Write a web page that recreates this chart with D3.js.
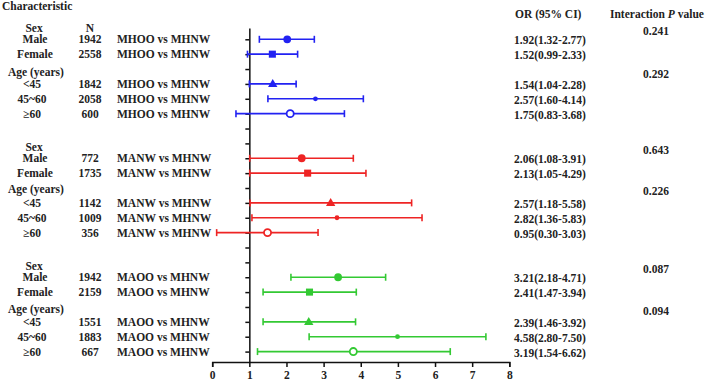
<!DOCTYPE html>
<html>
<head>
<meta charset="utf-8">
<script src="https://cdn.jsdelivr.net/npm/d3@7"></script>
<style>
  body { margin: 0; background: #fff; }
  text { font-family: "Liberation Serif", "Times New Roman", serif; font-weight: bold; font-size: 11.5px; fill: #222; }
</style>
</head>
<body>
<script>
// Data
var comparisons = ["MHOO vs MHNW", "MANW vs MHNW", "MAOO vs MHNW"];
var subgroups = ["Male", "Female", "<45", "45~60", "≥60"];
var nValues = [[1942, 2558, 1842, 2058, 600],
               [772, 1735, 1142, 1009, 356],
               [1942, 2159, 1551, 1883, 667]];
// point and CI as drawn in the figure
var orPoint = [[2.02, 1.62, 1.63, 2.78, 2.10],
               [2.41, 2.57, 3.19, 3.36, 1.49],
               [3.39, 2.62, 2.60, 4.99, 3.80]];
var orLower = [[1.27, 0.95, 1.00, 1.50, 0.64],
               [1.01, 1.01, 1.02, 1.07, 0.12],
               [2.12, 1.37, 1.37, 2.61, 1.22]];
var orUpper = [[2.75, 2.30, 2.26, 4.07, 3.56],
               [3.80, 4.14, 5.37, 5.65, 2.85],
               [4.67, 3.88, 3.86, 7.37, 6.41]];
var orLabels = [["1.92(1.32-2.77)", "1.52(0.99-2.33)", "1.54(1.04-2.28)", "2.57(1.60-4.14)", "1.75(0.83-3.68)"],
                ["2.06(1.08-3.91)", "2.13(1.05-4.29)", "2.57(1.18-5.58)", "2.82(1.36-5.83)", "0.95(0.30-3.03)"],
                ["3.21(2.18-4.71)", "2.41(1.47-3.94)", "2.39(1.46-3.92)", "4.58(2.80-7.50)", "3.19(1.54-6.62)"]];
var pValues = [["0.241", "0.292"], ["0.643", "0.226"], ["0.087", "0.094"]];
var xTicks = [0, 1, 2, 3, 4, 5, 6, 7, 8];

var colors = ["#2222f2", "#ee2424", "#33c933"];
var blockStart = [0, 8, 16];
var rowOffset = [0, 1, 3, 4, 5];
var sexRow = [-0.78, 7.22, 15.22];
var ageRow = [2.2, 10.05, 18.15];

var svg = d3.select("body").append("svg")
  .attr("width", 708)
  .attr("height", 380);

var x = d3.scaleLinear().domain([0, 8]).range([212.2, 509.3]);
var y = d3.scaleLinear().domain([-0.76, 21.7]).range([28, 362]);

// Headers
svg.append("text").attr("x", 2).attr("y", 10).text("Characteristic");
svg.append("text").attr("x", 515).attr("y", 18).text("OR (95% CI)");
var ih = svg.append("text").attr("x", 610).attr("y", 18);
ih.append("tspan").text("Interaction ");
ih.append("tspan").style("font-style", "italic").text("P");
ih.append("tspan").text(" value");
svg.append("text").attr("x", 90).attr("y", y(-0.78) + 4).attr("text-anchor", "middle").text("N");

// x axis
var axeX = d3.axisBottom(x).tickValues(xTicks).tickSize(5).tickFormat(d3.format("d"));
var groupeX = svg.append("g")
  .attr("transform", `translate(0, ${y(21.7)})`)
  .call(axeX);
groupeX.selectAll("path, line").attr("stroke", "#111").attr("stroke-width", 1.5);
groupeX.selectAll("text")
  .attr("y", 9)
  .style("font-family", "Liberation Serif, serif")
  .style("font-weight", "bold")
  .style("font-size", "11.5px")
  .attr("fill", "#222");

// vertical line at OR = 1
var axeY = d3.axisLeft(y).tickValues(d3.range(0, 22)).tickSize(4).tickSizeOuter(0).tickFormat("");
var groupeY = svg.append("g")
  .attr("transform", `translate(${x(1)}, 0)`)
  .call(axeY);
groupeY.selectAll("path, line").attr("stroke", "#111").attr("stroke-width", 1.5);

var shapes = [d3.symbolCircle, d3.symbolSquare, d3.symbolTriangle, d3.symbolCircle, d3.symbolCircle];
var sizes = [48, 50, 38, 18, 40];

comparisons.forEach(function(comp, b) {
  var col = colors[b];
  svg.append("text").attr("x", 34).attr("y", y(sexRow[b]) + 4).attr("text-anchor", "middle").text("Sex");
  svg.append("text").attr("x", 8).attr("y", y(ageRow[b]) + 4).text("Age (years)");

  subgroups.forEach(function(sg, i) {
    var r = blockStart[b] + rowOffset[i];
    var yy = y(r);
    svg.append("text").attr("x", i < 2 ? 35 : 32).attr("y", yy + 4).attr("text-anchor", "middle").text(sg);
    svg.append("text").attr("x", 90).attr("y", yy + 4).attr("text-anchor", "middle").text(nValues[b][i]);
    svg.append("text").attr("x", 117).attr("y", yy + 4).text(comp);
    svg.append("text").attr("x", 514).attr("y", yy + 5).text(orLabels[b][i]);

    var g = svg.append("g").attr("stroke", col).attr("stroke-width", 1.6);
    g.append("line").attr("x1", x(orLower[b][i])).attr("x2", x(orUpper[b][i])).attr("y1", yy).attr("y2", yy);
    g.append("line").attr("x1", x(orLower[b][i])).attr("x2", x(orLower[b][i])).attr("y1", yy - 3.5).attr("y2", yy + 3.5);
    g.append("line").attr("x1", x(orUpper[b][i])).attr("x2", x(orUpper[b][i])).attr("y1", yy - 3.5).attr("y2", yy + 3.5);

    svg.append("path")
      .attr("d", d3.symbol().type(shapes[i]).size(sizes[i]))
      .attr("transform", `translate(${x(orPoint[b][i])}, ${yy + (i === 2 ? 0.5 : 0)})`)
      .attr("fill", i === 4 ? "#fff" : col)
      .attr("stroke", i === 4 ? col : "none")
      .attr("stroke-width", 1.8);
  });

  svg.append("text").attr("x", 656).attr("y", y(sexRow[b]) + 7).attr("text-anchor", "middle").text(pValues[b][0]);
  svg.append("text").attr("x", 656).attr("y", y(ageRow[b]) + 6).attr("text-anchor", "middle").text(pValues[b][1]);
});
</script>
</body>
</html>
